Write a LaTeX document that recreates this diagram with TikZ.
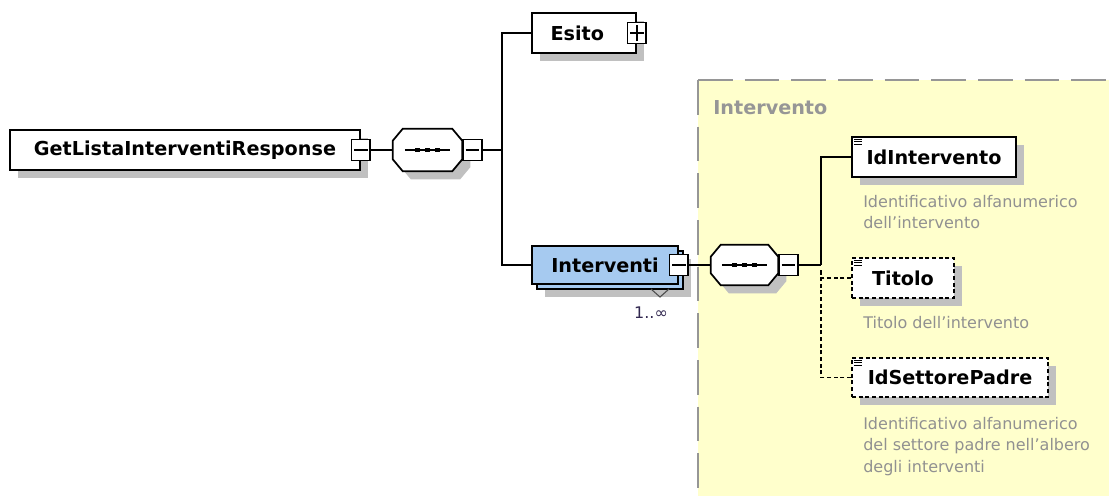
\documentclass[tikz,border=0pt]{standalone}
\usepackage{fontspec}
\setmainfont{DejaVu Sans}
\usetikzlibrary{shadows}

\definecolor{boxblue}{RGB}{166,202,240}
\definecolor{areayellow}{RGB}{255,255,204}
\definecolor{arealine}{RGB}{150,150,150}
\definecolor{shade}{RGB}{192,192,192}
\definecolor{desctext}{RGB}{145,145,145}
\definecolor{multtext}{RGB}{50,40,80}

\tikzset{
  sh/.style={drop shadow={shadow xshift=6pt,shadow yshift=-6pt,fill=shade,opacity=1}},
  elem/.style={draw,fill=white,line width=1.3pt,inner sep=0pt,sh,
    font=\fontsize{14.4}{16}\selectfont\bfseries},
  optelem/.style={elem,dash pattern=on 3pt off 2pt},
  seqbox/.style={inner sep=0pt},
  seqline/.style={draw,fill=white,line width=1.3pt,sh},
  btnminus/.style={draw,fill=white,line width=1.2pt,minimum width=14pt,minimum height=16pt,inner sep=0pt,
    path picture={
      \draw[line width=1.2pt] ([xshift=2pt]path picture bounding box.west) -- ([xshift=-2pt]path picture bounding box.east);
    }},
  btnplus/.style={btnminus,
    path picture={
      \draw[line width=1.2pt] ([xshift=2pt]path picture bounding box.west) -- ([xshift=-2pt]path picture bounding box.east);
      \draw[line width=1.2pt] ([yshift=2pt]path picture bounding box.south) -- ([yshift=-2pt]path picture bounding box.north);
    }},
  conn/.style={line width=1.3pt},
  optconn/.style={conn,dash pattern=on 3pt off 2pt},
  desc/.style={anchor=north west,align=left,inner sep=0pt,text=desctext,
    font=\fontsize{12}{16}\selectfont},
}

% octagon of a sequence, with its three dots
\newcommand{\seqshape}[1]{%
  \draw[seqline] ([xshift=7.5pt]#1.north west) -- ([xshift=-7.5pt]#1.north east)
    -- ([yshift=-9pt]#1.north east) -- ([yshift=9pt]#1.south east)
    -- ([xshift=-7.5pt]#1.south east) -- ([xshift=7.5pt]#1.south west)
    -- ([yshift=9pt]#1.south west) -- ([yshift=-9pt]#1.north west) -- cycle;
  \draw[line width=1.2pt] ([xshift=-17pt]#1.center) -- ([xshift=17pt]#1.center);
  \foreach \d in {-7.5,0,7.5}
    \fill[black] ([xshift=\d pt-1.8pt,yshift=-1.8pt]#1.center) rectangle ++(3.6pt,3.6pt);
}

% little "documented" mark in the corner of an element
\newcommand{\docmark}[1]{%
  \foreach \k in {0,1,2}
    \draw[line width=0.7pt] ([xshift=2.5pt,yshift=-2.5pt-1.8pt*\k]#1.north west) -- ++(6pt,0);
}

\begin{document}
\begin{tikzpicture}[x=0.75pt,y=-0.75pt]
  \useasboundingbox (0,0) rectangle (1109,496);

  % complex type area
  \fill[areayellow] (698,80) rectangle (1109,496);
  \draw[arealine,line width=1.5pt,dash pattern=on 26pt off 9pt] (698,80) -- (1109,80);
  \draw[arealine,line width=1.5pt,dash pattern=on 26pt off 9pt,dash phase=35pt] (698,80) -- (698,496);
  \node[anchor=base west,inner sep=0pt,text=arealine,font=\fontsize{14.4}{16}\selectfont\bfseries] (areatitle) at (713,114) {Intervento};

  % root element and its sequence
  \node[elem,minimum width=262.5pt,minimum height=30pt] (resp) at (185,150) {GetListaInterventiResponse};
  \node[btnminus] (respbtn) at (resp.east) {};
  \node[seqbox,minimum width=51.75pt,minimum height=31.5pt] (seqa) at (427.5,150) {};
  \seqshape{seqa}
  \node[btnminus,anchor=west] (seqabtn) at (seqa.east) {};
  \coordinate (forka) at (502,150);

  \node[elem,minimum width=78pt,minimum height=30pt] (esito) at (584,33) {Esito\hspace*{10pt}};
  \node[btnplus] (esitobtn) at (esito.east) {};

  \node[elem,fill=boxblue,minimum width=109.5pt,minimum height=28.5pt] (intervbk) at (610,270) {};
  \node[draw,fill=boxblue,line width=1.3pt,inner sep=0pt,minimum width=109.5pt,minimum height=28.5pt,
    font=\fontsize{14.4}{16}\selectfont\bfseries] (interv) at (605,265) {Interventi};
  \node[btnminus] (intervbtn) at (interv.east) {};
  \draw[line width=0.8pt,black!70] (651,289) -- (660,297) -- (669,289);
  \node[anchor=base,inner sep=0pt,text=multtext,font=\fontsize{12}{14}\selectfont] (intervmult) at (651,318) {1..∞};

  \draw[conn] (respbtn.east) -- (seqa.west);
  \draw[conn] (seqabtn.east) -- (forka);
  \draw[conn] (esito.west) -| (forka);
  \draw[conn] (interv.west) -| (forka);

  % sequence of Intervento
  \node[seqbox,minimum width=50.25pt,minimum height=30pt] (seqb) at (744.5,265) {};
  \seqshape{seqb}
  \node[btnminus,anchor=west] (seqbbtn) at (seqb.east) {};
  \coordinate (forkb) at (821,265);

  \node[elem,minimum width=123pt,minimum height=30pt] (idint) at (934,157) {IdIntervento};
  \docmark{idint}
  \node[desc] (idintdesc) at (863,195) {Identificativo alfanumerico\\dell'intervento};

  \node[optelem,minimum width=76.5pt,minimum height=30pt] (titolo) at (903,278) {Titolo};
  \docmark{titolo}
  \node[desc] (titolodesc) at (863,316) {Titolo dell'intervento};

  \node[optelem,minimum width=147pt,minimum height=29.25pt] (idsett) at (950,377.5) {IdSettorePadre};
  \docmark{idsett}
  \node[desc] (idsettdesc) at (863,417) {Identificativo alfanumerico\\del settore padre nell'albero\\degli interventi};

  \draw[conn] (intervbtn.east) -- (seqb.west);
  \draw[conn] (seqbbtn.east) -- (forkb);
  \draw[conn] (idint.west) -| (forkb);
  \draw[optconn] (titolo.west) -| ([yshift=-3pt]forkb);
  \draw[optconn] (idsett.west) -| ([yshift=-3pt]forkb);
\end{tikzpicture}
\end{document}
